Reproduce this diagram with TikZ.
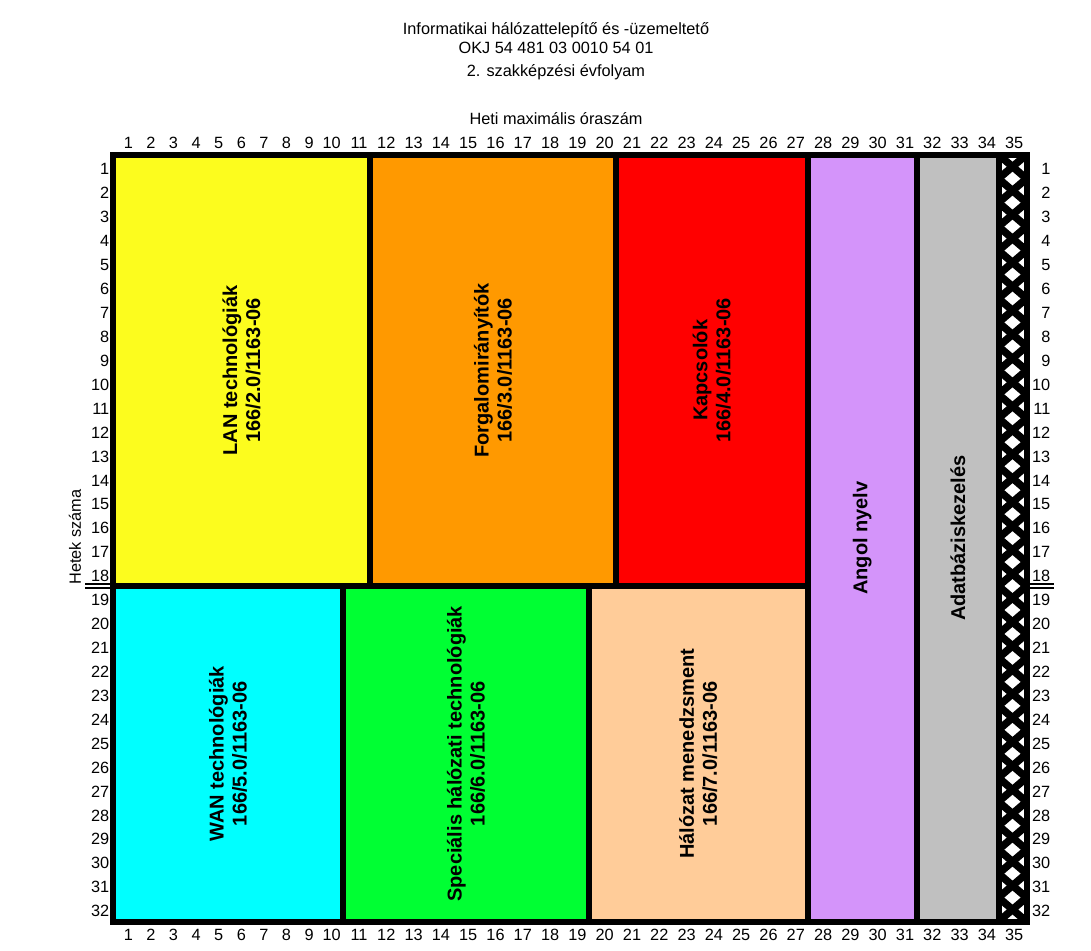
\documentclass[tikz,border=0pt]{standalone}
\usepackage{fontspec}
\setmainfont{Liberation Sans}
\usepackage{tikz}
\definecolor{lanyellow}{RGB}{252,252,30}
\definecolor{forgorange}{RGB}{255,153,0}
\definecolor{kapcsred}{RGB}{255,0,0}
\definecolor{angolviolet}{RGB}{212,148,250}
\definecolor{adatgray}{RGB}{192,192,192}
\definecolor{wancyan}{RGB}{0,255,255}
\definecolor{specgreen}{RGB}{0,255,51}
\definecolor{halopeach}{RGB}{255,204,153}

\begin{document}
\begin{tikzpicture}[
    x=1pt, y=-1pt,
    every node/.style={font=\fontsize{16.3}{19}\selectfont},
    modul/.style={draw, line width=6pt, rotate=90, align=center, inner sep=0pt,
                  font=\fontsize{20}{23}\selectfont\bfseries},
    num/.style={inner sep=0pt},
    hatchline/.style={line width=7.5pt},
    breakline/.style={line width=2pt}
]
\useasboundingbox (0,0) rectangle (1091,950);

% Title
\node[align=center] (title) at (556,38) {Informatikai hálózattelepítő és -üzemeltető\\OKJ 54 481 03 0010 54 01};
\node (evf) at (556,72.5) {2. szakképzési évfolyam};
\node (heti) at (556,119) {Heti maximális óraszám};
\node[rotate=90] (hetek) at (75,537) {Hetek száma};

% Modules, weeks 1-18
\node[modul, fill=lanyellow, minimum width=431.3pt, minimum height=257pt] (lan) at (241.5,370.35) {LAN technológiák\\166/2.0/1163-06};
\node[modul, fill=forgorange, minimum width=431.3pt, minimum height=246pt] (forg) at (493,370.35) {Forgalomirányítók\\166/3.0/1163-06};
\node[modul, fill=kapcsred, minimum width=431.3pt, minimum height=191.5pt] (kapcs) at (711.75,370.35) {Kapcsolók\\166/4.0/1163-06};

% Modules, weeks 19-32
\node[modul, fill=wancyan, minimum width=335.5pt, minimum height=230pt] (wan) at (228,753.75) {WAN technológiák\\166/5.0/1163-06};
\node[modul, fill=specgreen, minimum width=335.5pt, minimum height=246pt] (spec) at (466,753.75) {Speciális hálózati technológiák\\166/6.0/1163-06};
\node[modul, fill=halopeach, minimum width=335.5pt, minimum height=218.5pt] (halo) at (698.25,753.75) {Hálózat menedzsment\\166/7.0/1163-06};

% Whole year
\node[modul, fill=angolviolet, minimum width=766.8pt, minimum height=109.5pt] (angol) at (862.25,538.1) {Angol nyelv};
\node[modul, fill=adatgray, minimum width=766.8pt, minimum height=81.5pt] (adatb) at (957.75,538.1) {Adatbáziskezelés};

% Week 35 column
\begin{scope}
  \clip (998.5,154.7) rectangle (1026.5,921.5);
  \fill[white] (998.5,154.7) rectangle (1026.5,921.5);
  \foreach \k in {-1,...,32} {
    \draw[hatchline] (970.5,{154.7+(\k-1)*23.9625}) -- (1054.5,{154.7+(\k+2)*23.9625});
    \draw[hatchline] (1054.5,{154.7+(\k-1)*23.9625}) -- (970.5,{154.7+(\k+2)*23.9625});
  }
\end{scope}
\node[draw, line width=6pt, inner sep=0pt, minimum width=28pt, minimum height=766.8pt] (tartalek) at (1012.5,538.1) {};

% Break marks
\draw[breakline] (85,583.7) -- (110,583.7);
\draw[breakline] (85,588.2) -- (110,588.2);
\draw[breakline] (1029,583.7) -- (1054,583.7);
\draw[breakline] (1029,588.2) -- (1054,588.2);

% Axis numbers
\foreach \sor in {1,...,32} {
  \node[num, anchor=east] (bal\sor) at (109.5,{169.3+(\sor-1)*23.93}) {\sor};
  \node[num, anchor=east] (jobb\sor) at (1050.5,{169.3+(\sor-1)*23.93}) {\sor};
}
\foreach \oszlop in {1,...,35} {
  \pgfmathsetmacro\xo{\oszlop<11 ? 128.3+(\oszlop-1)*22.6 : 359+(\oszlop-11)*27.3}
  \node[num] (fent\oszlop) at (\xo,143) {\oszlop};
  \node[num] (lent\oszlop) at (\xo,935) {\oszlop};
}

\end{tikzpicture}
\end{document}
